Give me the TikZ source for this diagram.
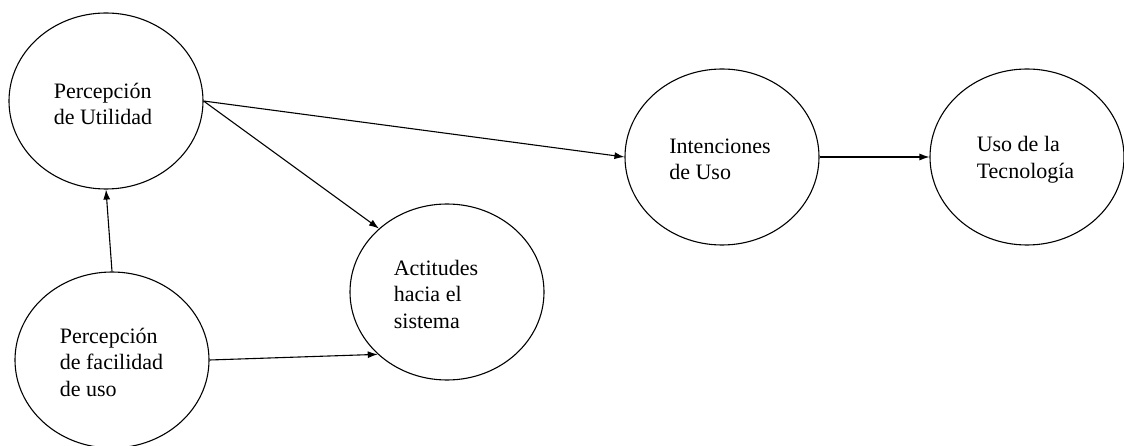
\documentclass[tikz,border=0pt]{standalone}
\usepackage{fontspec}
\setmainfont{Liberation Serif}
\usetikzlibrary{shapes.geometric,arrows.meta}

\begin{document}
\begin{tikzpicture}[x=1pt,y=-1pt,
  bubble/.style={draw=black,line width=1.1pt,ellipse,inner sep=0pt,
    minimum width=194pt,minimum height=176pt},
  caption/.style={align=left,inner sep=0pt,
    font=\fontsize{22pt}{26.5pt}\selectfont},
  link/.style={draw=black,line width=1.1pt,-{Latex[length=10pt,width=7pt]}}]
  \useasboundingbox (0,0) rectangle (1124,446);

  % constructs of the acceptance model
  \node[bubble] (pu) at (106,101) {};
  \node[bubble] (pf) at (112,360) {};
  \node[bubble] (ac) at (447,292) {};
  \node[bubble] (iu) at (722,157) {};
  \node[bubble] (ut) at (1027,157) {};

  \node[caption] (tpu) at (103,104) {Percepción\\de Utilidad};
  \node[caption] (tpf) at (111.5,362) {Percepción\\de facilidad\\de uso};
  \node[caption] (tac) at (436,294) {Actitudes\\hacia el\\sistema};
  \node[caption] (tiu) at (720,159.5) {Intenciones\\de Uso};
  \node[caption] (tut) at (1025.5,159.5) {Uso de la\\Tecnología};

  % causal paths
  \draw[link] (pf.north) -- (pu.south);
  \draw[link] (pu.east) -- (iu.west);
  \draw[link] (pu.east) -- (ac.137);
  \draw[link] (pf.east) -- (ac.222);
  \draw[link] (iu.east) -- (ut.west);
\end{tikzpicture}
\end{document}
